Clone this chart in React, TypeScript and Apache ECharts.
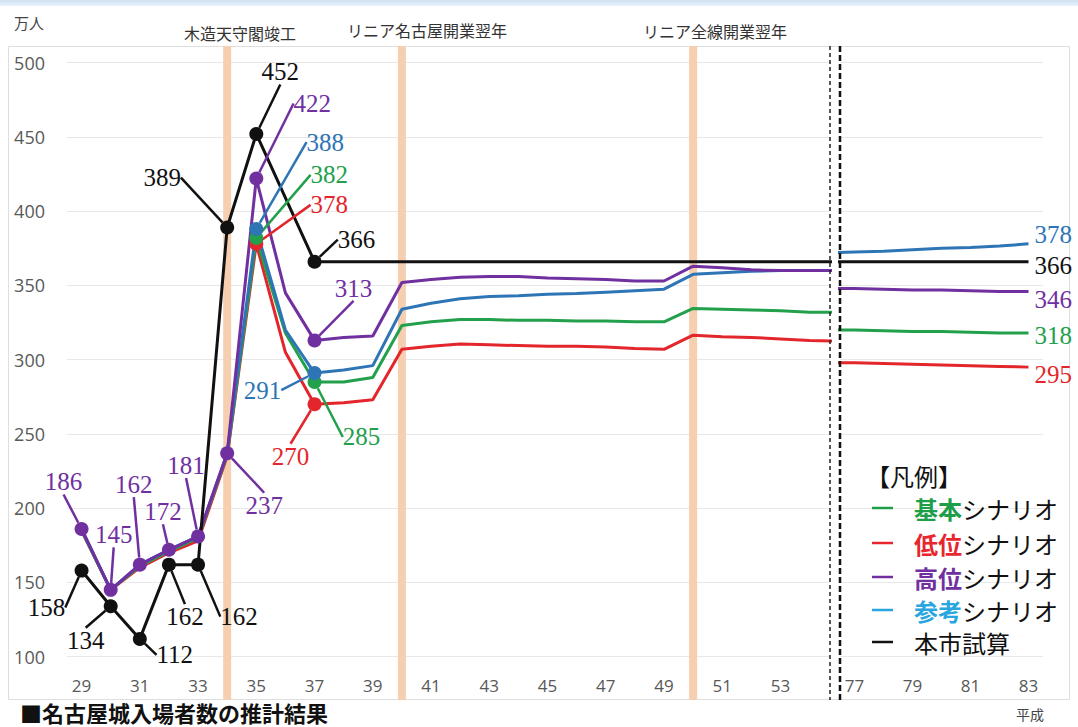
import React, { useEffect, useRef } from "react";
import * as echarts from "echarts";

// ---- data ----
const yearsLeft = [29, 30, 31, 32, 33, 34, 35, 36, 37, 38, 39, 40, 41, 42, 43, 44, 45, 46, 47, 48, 49, 50, 51, 52, 53, 54, 55];
const yearsRight = [76, 77, 78, 79, 80, 81, 82, 83];

const basicLeft = [185, 145, 161, 171, 180, 236, 382, 318, 285, 285, 288, 323, 325.5, 327, 327, 326.5, 326.5, 326, 326, 325.5, 325.5, 334.5, 334, 333.5, 333, 332, 332];
const lowLeft = [185, 145, 160, 170, 178, 235, 378, 305, 270, 271, 273, 307, 309, 310.5, 310, 309.5, 309, 309, 308.5, 307.5, 307, 316.5, 315.5, 315, 314, 313, 312.5];
const highLeft = [186, 145, 162, 172, 181, 237, 422, 345, 313, 315, 316, 352, 354, 355.5, 356, 356, 355, 354.5, 354, 353, 353, 363, 362, 360.5, 360, 360, 360];
const refLeft = [186, 145, 162, 172, 181, 237, 388, 320, 291, 293, 296, 334, 338, 341, 342.5, 343, 344, 344.5, 345.5, 346.5, 347.5, 357.5, 358.5, 359.5, 360, 360, 360];
const cityLeft = [158, 134, 112, 162, 162, 389, 452, null, 366, 366, 366, 366, 366, 366, 366, 366, 366, 366, 366, 366, 366, 366, 366, 366, 366, 366, 366];

const basicRight = [320, 320, 319.5, 319, 319, 318.5, 318, 318];
const lowRight = [298, 298, 297.5, 297, 296.5, 296, 295.5, 295];
const highRight = [348, 348, 347.5, 347, 347, 346.5, 346, 346];
const refRight = [372, 372.5, 373, 374, 375, 375.5, 376.5, 378];
const cityRight = [366, 366, 366, 366, 366, 366, 366, 366];

const markedYearsAll = [29, 30, 31, 32, 33, 34, 35, 37];
const markedYearsPeak = [35, 37];
const bandYears = [34, 40, 50];

const xTickLabels = [29, 31, 33, 35, 37, 39, 41, 43, 45, 47, 49, 51, 53, 77, 79, 81, 83];

const legendItems = [
  { key: "基本", rest: "シナリオ", color: "#1e9e48", line: "#1e9e48" },
  { key: "低位", rest: "シナリオ", color: "#e8262d", line: "#e8262d" },
  { key: "高位", rest: "シナリオ", color: "#7030a0", line: "#7030a0" },
  { key: "参考", rest: "シナリオ", color: "#29a6e0", line: "#29a6e0" },
  { key: "", rest: "本市試算", color: "#111111", line: "#111111" },
];

// ---- styles ----
const C = {
  basic: "#22a04b",
  low: "#e3262c",
  high: "#7030a0",
  ref: "#2e75b6",
  city: "#111111",
};

const SERIF = "'Liberation Serif', 'DejaVu Serif', serif";
const SANS = "'Open Sans', 'Noto Sans', sans-serif";
const CJK = "'Noto Sans CJK JP', 'Noto Sans', sans-serif";

// label offsets (dx, dy) relative to the point, per marked point
const offsCity = [[-35, 37], [-25, 34], [35, 16], [16, 52], [41, 52], [-65, -50], [24, -62], [42, -22]];
const offsHigh = [[-18, -47], [3, -55], [-6, -80], [-6, -38], [-12, -71], [37, 52], [56, -75], [39, -52]];
const offsRef = [[69, -87], [-52, 17]];
const offsBasic = [[73, -63], [47, 55]];
const offsLow = [[73, -39], [-24, 52]];

const endOffsets: Record<string, number[]> = {
  ref: [0, -9],
  city: [0, 4],
  high: [0, 8],
  basic: [0, 3],
  low: [0, 7],
};

function pairs(xs: number[], ys: (number | null)[]) {
  return xs.map((x, i) => [x, ys[i]]);
}

function marks(years: number[], vals: (number | null)[]) {
  return years.map((y) => [y, vals[yearsLeft.indexOf(y)]]);
}

function lineSeries(name: string, color: string, left: (number | null)[], right: number[], key: string, z: number) {
  return [
    {
      type: "line",
      name,
      xAxisIndex: 0,
      yAxisIndex: 0,
      data: pairs(yearsLeft, left),
      symbol: "none",
      connectNulls: true,
      clip: true,
      lineStyle: { color, width: 3 },
      itemStyle: { color },
      z,
    },
    {
      type: "line",
      name,
      xAxisIndex: 1,
      yAxisIndex: 1,
      data: pairs(yearsRight, right),
      symbol: "none",
      clip: true,
      lineStyle: { color, width: 3 },
      itemStyle: { color },
      z,
      endLabel: {
        show: true,
        formatter: (p: any) => String(p.value[1]),
        color,
        fontFamily: SERIF,
        fontSize: 25,
        distance: 6,
        offset: endOffsets[key],
      },
    },
  ];
}

function markSeries(name: string, color: string, data: any[], offs: number[][], z: number) {
  return {
    type: "scatter",
    name,
    xAxisIndex: 0,
    yAxisIndex: 0,
    data,
    symbol: "circle",
    symbolSize: 14,
    itemStyle: { color, opacity: 1 },
    z,
    label: {
      show: true,
      position: "inside",
      formatter: (p: any) => String(p.value[1]),
      color,
      fontFamily: SERIF,
      fontSize: 25,
    },
    labelLine: { show: true, lineStyle: { color, width: 2.5 } },
    labelLayout: (p: any) => ({ dx: offs[p.dataIndex][0], dy: offs[p.dataIndex][1] }),
  };
}

const xLabelFormatter = (v: number) => (xTickLabels.indexOf(v) >= 0 ? String(v) : "");

const xAxisCommon = {
  type: "value",
  interval: 0.5,
  axisLine: { show: false },
  axisTick: { show: false },
  splitLine: { show: false },
  axisLabel: {
    formatter: xLabelFormatter,
    color: "#595959",
    fontFamily: SANS,
    fontSize: 17,
    margin: 20,
    showMinLabel: true,
    showMaxLabel: true,
  },
};

const yAxisCommon = {
  type: "value",
  min: 100,
  max: 500,
  interval: 50,
  axisLine: { show: false },
  axisTick: { show: false },
  splitLine: { show: true, lineStyle: { color: "#e8e8e8", width: 1 } },
};

const option: any = {
  animation: false,
  backgroundColor: "#ffffff",
  grid: [
    { left: 67, right: 248, top: 62.7, bottom: 70.3, containLabel: false },
    { left: 840, right: 35, top: 62.7, bottom: 70.3, containLabel: false },
  ],
  xAxis: [
    { ...xAxisCommon, gridIndex: 0, min: 28.5, max: 54.7 },
    { ...xAxisCommon, gridIndex: 1, min: 76.5, max: 83.5 },
  ],
  yAxis: [
    {
      ...yAxisCommon,
      gridIndex: 0,
      axisLabel: { color: "#595959", fontFamily: SANS, fontSize: 18, margin: 22 },
    },
    { ...yAxisCommon, gridIndex: 1, axisLabel: { show: false } },
  ],
  series: [
    ...lineSeries("低位シナリオ", C.low, lowLeft, lowRight, "low", 2),
    ...lineSeries("基本シナリオ", C.basic, basicLeft, basicRight, "basic", 3),
    ...lineSeries("参考シナリオ", C.ref, refLeft, refRight, "ref", 4),
    ...lineSeries("高位シナリオ", C.high, highLeft, highRight, "high", 5),
    ...lineSeries("本市試算", C.city, cityLeft, cityRight, "city", 6),
    markSeries("低位シナリオ", C.low, marks(markedYearsPeak, lowLeft), offsLow, 7),
    markSeries("基本シナリオ", C.basic, marks(markedYearsPeak, basicLeft), offsBasic, 7),
    markSeries("参考シナリオ", C.ref, marks(markedYearsPeak, refLeft), offsRef, 7),
    markSeries("高位シナリオ", C.high, marks(markedYearsAll, highLeft), offsHigh, 8),
    markSeries("本市試算", C.city, marks(markedYearsAll, cityLeft), offsCity, 9),
  ],
};

function staticGraphics() {
  const g: any[] = [];
  g.push({
    type: "rect",
    shape: { x: 0, y: 0, width: 1078, height: 6 },
    style: {
      fill: new echarts.graphic.LinearGradient(0, 0, 0, 1, [
        { offset: 0, color: "#cfe0f1" },
        { offset: 1, color: "#eaf2fa" },
      ]),
    },
    z: 0,
    silent: true,
  });
  g.push({
    type: "rect",
    shape: { x: 8.5, y: 46.5, width: 1061, height: 653 },
    style: { fill: "none", stroke: "#dedede", lineWidth: 1 },
    z: 0,
    silent: true,
  });
  g.push({
    type: "text",
    x: 14,
    y: 22,
    style: { text: "万人", fontSize: 15, fontFamily: CJK, fill: "#444", verticalAlign: "middle" },
    z: 20,
  });
  const tops = [
    { t: "木造天守閣竣工", x: 240, y: 33 },
    { t: "リニア名古屋開業翌年", x: 427, y: 30 },
    { t: "リニア全線開業翌年", x: 715, y: 31 },
  ];
  tops.forEach((o) =>
    g.push({
      type: "text",
      x: o.x,
      y: o.y,
      style: { text: o.t, fontSize: 16, fontFamily: CJK, fill: "#333", align: "center", verticalAlign: "middle" },
      z: 20,
    })
  );
  // dashed separators
  g.push({
    type: "line",
    shape: { x1: 830, y1: 46, x2: 830, y2: 700 },
    style: { stroke: "#222", lineWidth: 1.5, lineDash: [4, 3] },
    z: 20,
    silent: true,
  });
  g.push({
    type: "line",
    shape: { x1: 840, y1: 46, x2: 840, y2: 700 },
    style: { stroke: "#111", lineWidth: 2.5, lineDash: [6, 3] },
    z: 20,
    silent: true,
  });
  // legend
  g.push({
    type: "text",
    x: 866,
    y: 475,
    style: { text: "【凡例】", fontSize: 24, fontFamily: CJK, fill: "#111", verticalAlign: "middle", lineHeight: 28 },
    z: 20,
  });
  const rowY = [508, 543, 577, 610, 642];
  legendItems.forEach((it, i) => {
    g.push({
      type: "line",
      shape: { x1: 872, y1: rowY[i], x2: 893, y2: rowY[i] },
      style: { stroke: it.line, lineWidth: 2.5 },
      z: 20,
      silent: true,
    });
    const text = it.key ? `{k|${it.key}}{r|${it.rest}}` : `{r|${it.rest}}`;
    g.push({
      type: "text",
      x: 914,
      y: rowY[i],
      style: {
        text,
        fontSize: 24,
        fontFamily: CJK,
        verticalAlign: "middle",
        lineHeight: 28,
        rich: {
          k: { fill: it.color, color: it.color, fontWeight: "bold", fontSize: 24, fontFamily: CJK, lineHeight: 28 },
          r: { fill: "#111", color: "#111", fontSize: 24, fontFamily: CJK, lineHeight: 28 },
        },
      },
      z: 20,
    });
  });
  g.push({
    type: "text",
    x: 1030,
    y: 714,
    style: { text: "平成", fontSize: 14, fontFamily: CJK, fill: "#444", align: "center", verticalAlign: "middle" },
    z: 20,
  });
  g.push({
    type: "text",
    x: 20,
    y: 712,
    style: {
      text: "■名古屋城入場者数の推計結果",
      fontSize: 22,
      lineHeight: 22,
      fontWeight: "bold",
      fontFamily: CJK,
      fill: "#111",
      verticalAlign: "middle",
    },
    z: 20,
  });
  return g;
}

export default function App() {
  const ref = useRef<HTMLDivElement>(null);
  useEffect(() => {
    if (!ref.current) return;
    const chart = echarts.init(ref.current, null, { renderer: "svg" });
    chart.setOption(option);
    const bands = bandYears.map((yr) => {
      const x = chart.convertToPixel({ xAxisIndex: 0 }, yr) as number;
      return {
        type: "rect",
        shape: { x: x - 4, y: 46, width: 8, height: 654 },
        style: { fill: "#f6cfb0" },
        z: 1,
        silent: true,
      };
    });
    chart.setOption({ graphic: [...staticGraphics(), ...bands] });
    return () => chart.dispose();
  }, []);
  return (
    <div
      ref={ref}
      style={{ position: "fixed", left: 0, top: 0, width: 1078, height: 727, background: "#fff" }}
    />
  );
}
